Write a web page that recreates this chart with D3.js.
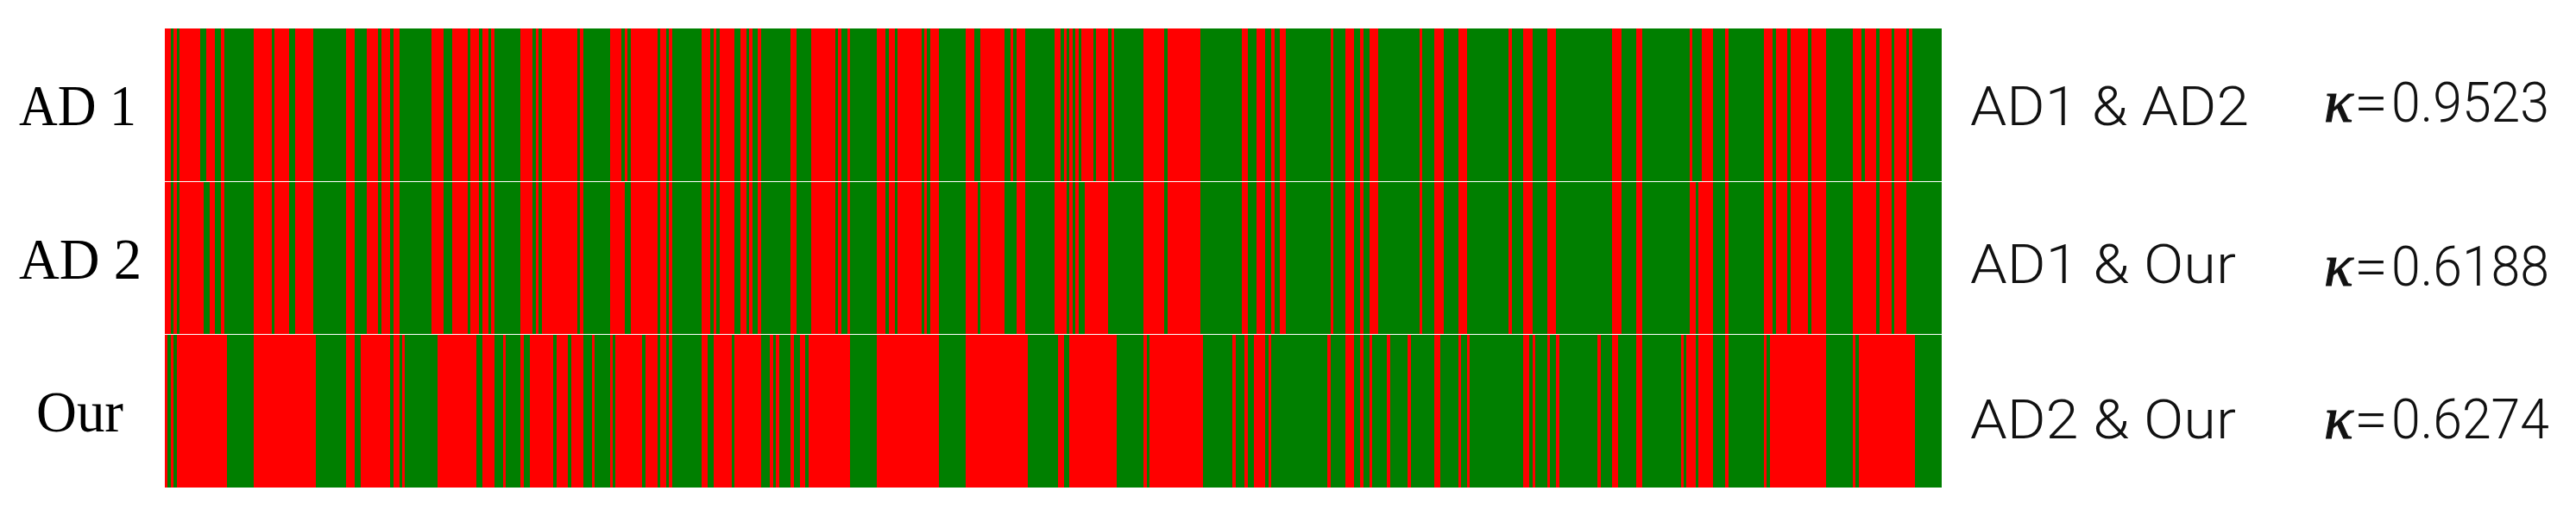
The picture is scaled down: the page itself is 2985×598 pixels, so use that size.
<!DOCTYPE html>
<html><head><meta charset="utf-8">
<script src="https://cdn.jsdelivr.net/npm/d3@7/dist/d3.min.js"></script>
<style>html,body{margin:0;padding:0;background:#fff}svg{display:block}</style>
</head><body><svg id="c"></svg>
<script>
const sampleCount = 599;
const rowNames = ["AD 1","AD 2","Our"];
const pairNames = ["AD1 & AD2","AD1 & Our","AD2 & Our"];
const kappaValues = ["0.9523","0.6188","0.6274"];
const labelColors = ["#ff0000","#007f00"];
// sample indices where the label flips; every row starts on the first label
const flipsAD1 = [2,3,4,5,12,14,17,19,20,30,36,37,42,44,50,61,64,68,72,73,
76,77,79,90,94,97,102,103,106,107,109,110,111,120,124,125,126,127,139,140,141,
150,154,155,156,157,166,167,169,170,171,181,184,185,186,187,192,194,196,197,198,200,201,211,213,218,
226,227,228,230,231,240,243,244,246,247,255,256,257,258,261,270,273,275,283,285,286,287,290,
300,302,303,304,305,306,307,308,309,313,314,318,319,320,330,337,338,349,363,365,368,371,373,374,
376,378,393,394,398,401,403,404,406,409,423,424,428,431,436,439,
453,454,458,461,466,469,488,491,496,498,514,515,518,522,
526,527,539,542,543,547,548,554,555,560,569,572,573,577,578,582,583,587,588,589];
const flipsAD2 = [2,3,4,5,13,15,17,19,20,30,36,37,42,44,50,61,64,68,72,73,
76,77,79,90,94,97,102,103,106,107,109,110,111,120,124,125,126,127,139,140,141,
150,155,157,166,167,169,170,171,181,184,185,186,187,192,194,196,197,198,200,201,211,213,218,
226,227,228,230,231,240,243,244,246,247,255,256,257,258,261,270,274,275,283,287,290,
300,304,305,306,307,308,310,318,330,337,338,349,363,365,368,371,373,374,
376,378,393,394,398,401,403,404,406,409,423,424,428,431,436,439,
453,454,458,461,466,469,488,491,496,498,514,516,517,522,
526,527,539,542,543,547,548,554,555,560,569,577,578,582,583,587];
const flipsOur = [1,2,3,4,21,30,51,61,64,66,
76,77,79,80,81,92,105,107,111,114,115,120,121,123,131,132,136,137,141,144,145,
150,151,152,161,162,166,167,169,170,171,181,183,185,191,192,201,204,205,206,207,211,212,214,216,217,
231,240,261,270,291,
301,303,305,321,330,331,332,350,360,361,364,365,367,371,372,373,
392,393,398,401,403,404,406,407,412,413,419,420,428,430,436,437,439,440,
458,460,461,462,466,467,469,470,483,484,488,490,496,498,511,512,513,516,517,522,
526,527,539,540,541,560,569,570,571,590];
const allFlips = [flipsAD1,flipsAD2,flipsOur];

const W = 2985, H = 598;
const svg = d3.select("#c").attr("width",W).attr("height",H).attr("viewBox",`0 0 ${W} ${H}`);
const x = d3.scaleLinear().domain([0,sampleCount]).range([191,2250]);
const y = d3.scaleBand().domain(rowNames).range([33,565]).paddingInner(0.0057);
const color = d3.scaleOrdinal().domain([0,1]).range(labelColors);

rowNames.forEach((name,i)=>{
  const edges = [0,...allFlips[i],sampleCount];
  const runs = d3.pairs(edges).map((p,k)=>({a:p[0],b:p[1],label:k%2}));
  svg.append("g").selectAll("rect").data(runs).join("rect")
    .attr("shape-rendering","crispEdges")
    .attr("x",d=>Math.round(x(d.a)))
    .attr("width",d=>Math.round(x(d.b))-Math.round(x(d.a)))
    .attr("y",Math.round(y(name)))
    .attr("height",Math.round(y(name)+y.bandwidth())-Math.round(y(name)))
    .attr("fill",d=>color(d.label));
});

const serif = "'Liberation Serif'", sans = "Roboto,'Noto Sans'";
const rowBase = [145,322.5,500], rowX = [22,22,42], rowLen = [136,142,101];
svg.append("g").selectAll("text").data(rowNames).join("text")
  .attr("x",(d,i)=>rowX[i]).attr("y",(d,i)=>rowBase[i])
  .attr("textLength",(d,i)=>rowLen[i]).attr("lengthAdjust","spacingAndGlyphs")
  .attr("font-family",serif).attr("font-size",67).attr("fill","#000").text(d=>d);

const pairBase = [145,327.5,507.6], pairLen = [323,308,308];
svg.append("g").selectAll("text").data(pairNames).join("text")
  .attr("x",2283).attr("y",(d,i)=>pairBase[i])
  .attr("textLength",(d,i)=>pairLen[i]).attr("lengthAdjust","spacingAndGlyphs")
  .attr("font-family",sans).attr("font-weight",300).attr("font-size",63).attr("fill","#111").text(d=>d);

const kBase = [141,331,508.4];
const kg = svg.append("g").selectAll("g").data(kappaValues).join("g")
  .attr("transform",(d,i)=>`translate(0,${kBase[i]})`);
kg.append("text").attr("x",2693).attr("font-family",serif).attr("font-style","italic")
  .attr("font-size",70).attr("fill","#111").attr("stroke","#111").attr("stroke-width",1.2).text("κ");
kg.append("text").attr("x",2728).attr("textLength",39).attr("lengthAdjust","spacingAndGlyphs")
  .attr("font-family",sans).attr("font-weight",300).attr("font-size",63).attr("fill","#111").text("=");
kg.append("text").attr("x",2771).attr("textLength",183).attr("lengthAdjust","spacingAndGlyphs")
  .attr("font-family",sans).attr("font-weight",300).attr("font-size",65).attr("fill","#111").text(d=>d);
</script></body></html>
